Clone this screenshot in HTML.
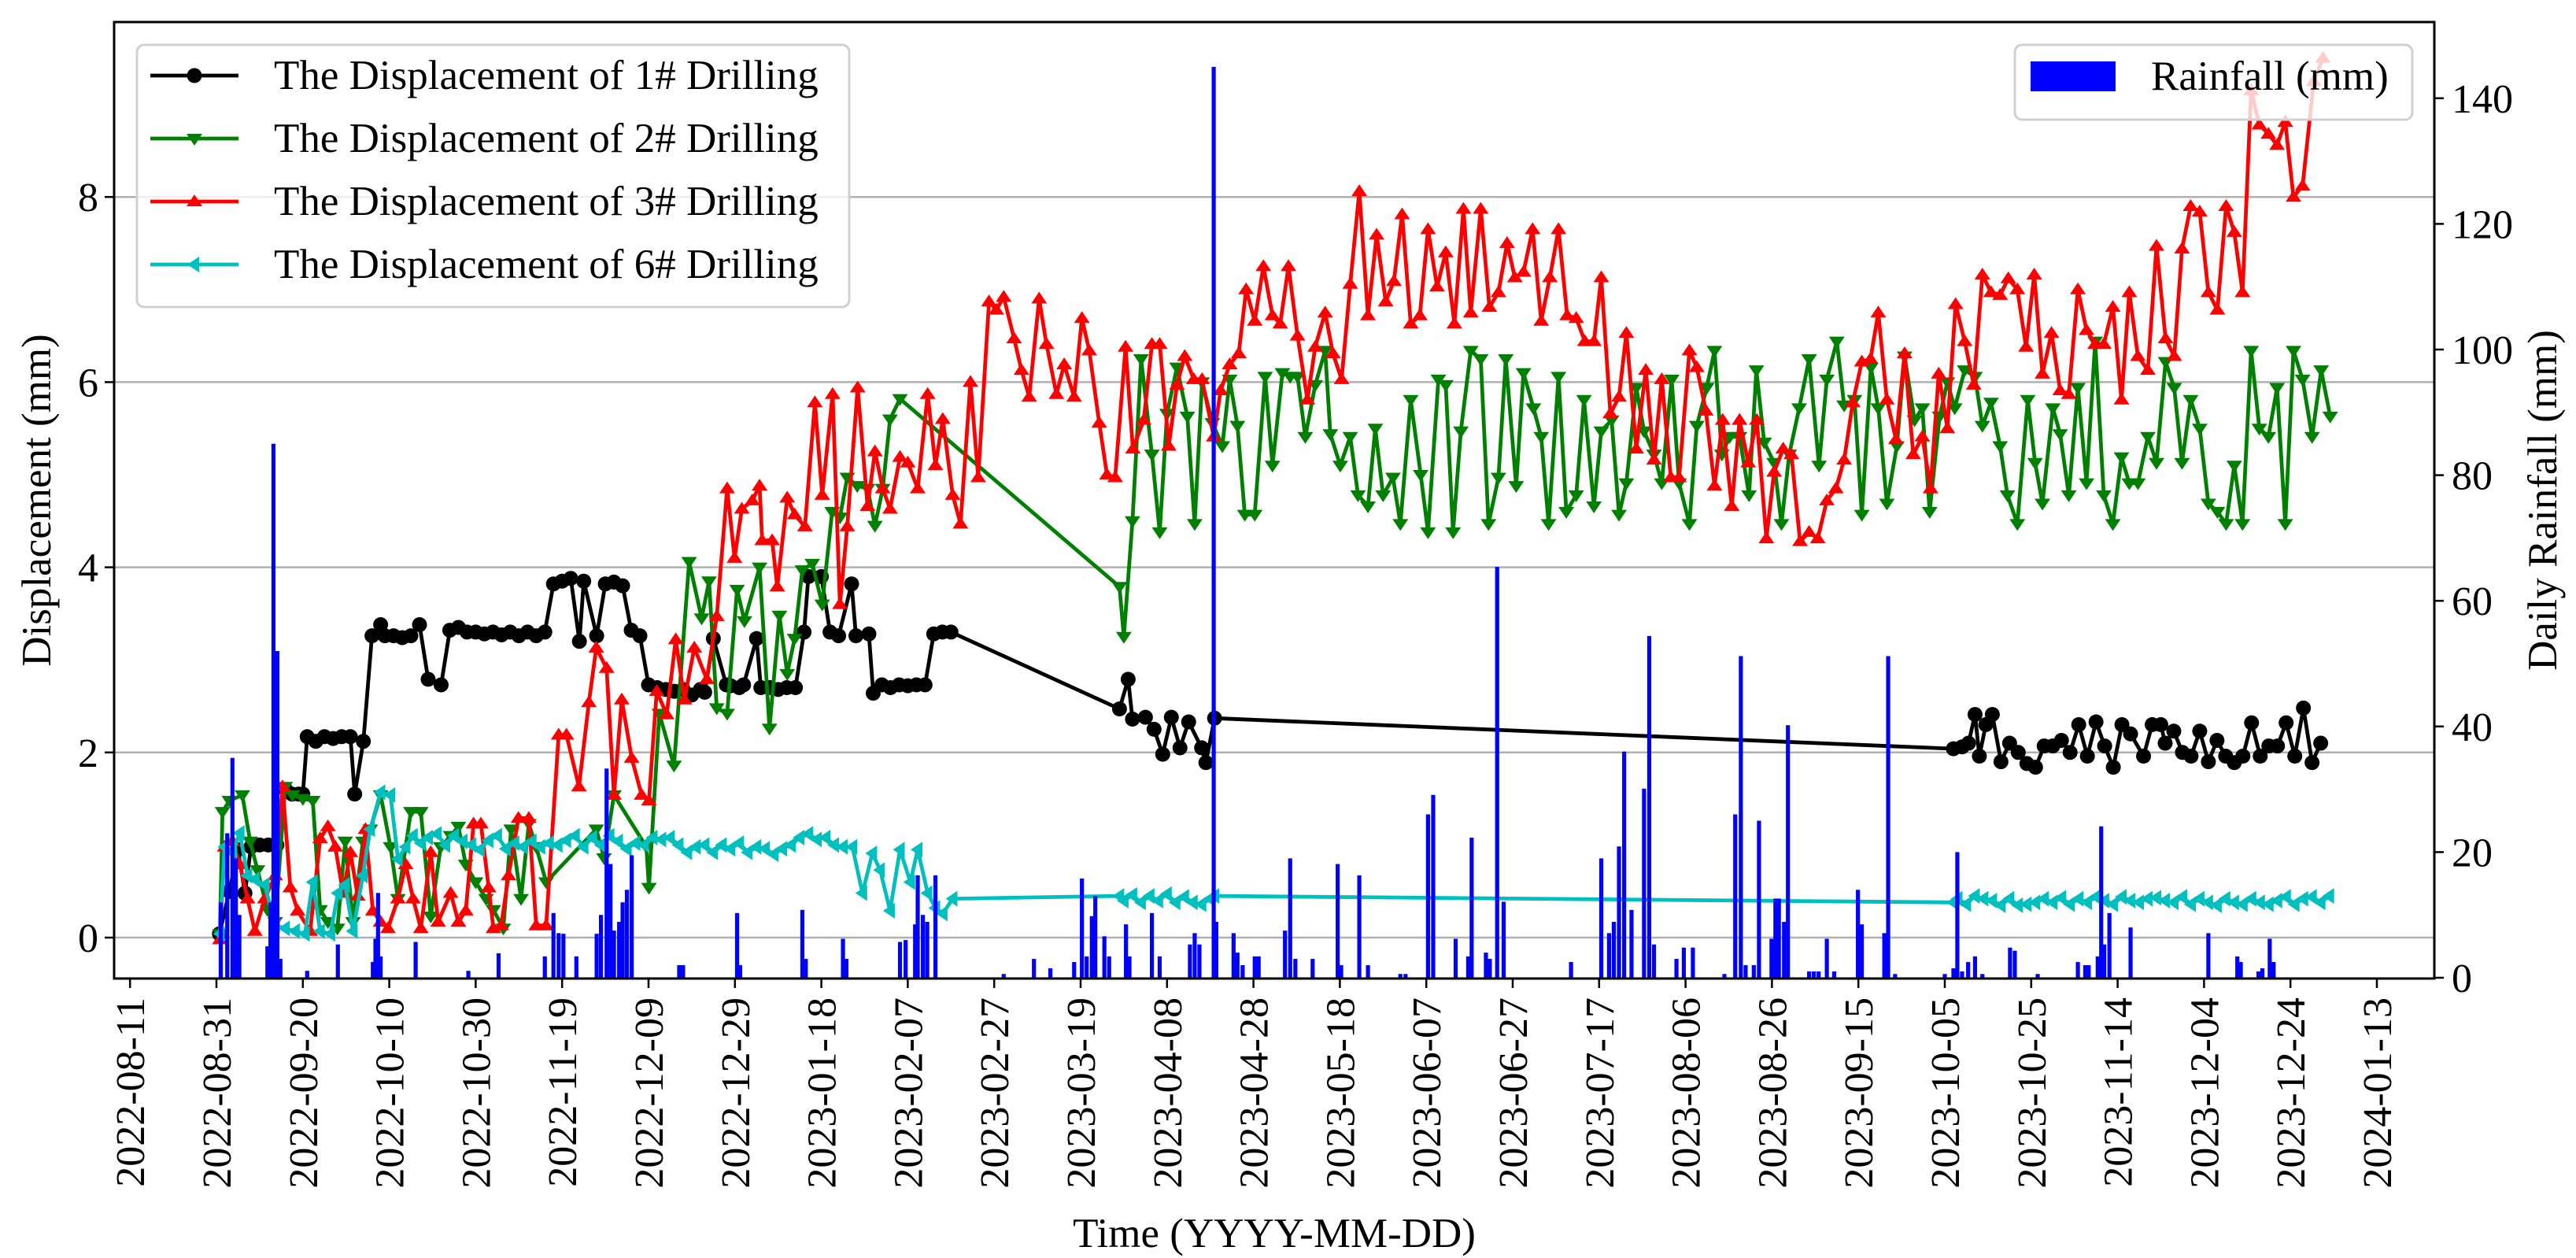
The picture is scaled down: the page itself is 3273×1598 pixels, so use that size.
<!DOCTYPE html>
<html><head><meta charset="utf-8"><style>
html,body{margin:0;padding:0;background:#fff}
svg{display:block}
text{font-family:"Liberation Serif","DejaVu Serif",serif;fill:#000}
</style></head><body>
<svg id="chart" xmlns="http://www.w3.org/2000/svg" width="3273" height="1598" viewBox="0 0 3273 1598">
<g id="grid"></g>
<g id="series"></g>
<g id="legend1"></g>
<g id="bars"></g>
<g id="legend2"></g>
<g id="axes"></g>
</svg>
<script>
const tickLabelsX = ["2022-08-11","2022-08-31","2022-09-20","2022-10-10","2022-10-30","2022-11-19","2022-12-09","2022-12-29","2023-01-18","2023-02-07","2023-02-27","2023-03-19","2023-04-08","2023-04-28","2023-05-18","2023-06-07","2023-06-27","2023-07-17","2023-08-06","2023-08-26","2023-09-15","2023-10-05","2023-10-25","2023-11-14","2023-12-04","2023-12-24","2024-01-13"];
const tickDaysX = [-20,0,20,40,60,80,100,120,140,160,180,200,220,240,260,280,300,320,340,360,380,400,420,440,460,480,500];
const leftTicks = [0,2,4,6,8];
const rightTicks = [0,20,40,60,80,100,120,140];

const s1Days = [0.7,3,5,6.6,8,10,12,14,16,17.5,19,20,21,23,25,27,29,31,32,34,36,38,39,41,43,45,47,49,52,54,56,58,60,62,64,66,68,70,72,74,76,78,80,82,84,85,88,90,92,94,96,98,100,102,104,106,108,110,112,113,115,118,119,121,122,125,126,128,130,132,134,136,137,140,142,144,147,148,151,152,154,156,158,160,162,164,166,168,170,209,211,212,215,217,219,221,223,225,228,229,231,402,404,405.5,407,408,409.5,411,413,415,417,419,421,423,425,427,429,431,433,435,437,439,441,443,446,448,450,451,453,455,457,459,461,463,465,467,469,471,473,475,477,479,481,483,485,487];
const s1Vals = [0.04,0.5,0.95,0.48,0.98,1.0,1.0,1.0,1.6,1.55,1.55,1.55,2.17,2.12,2.17,2.15,2.17,2.17,1.55,2.12,3.26,3.38,3.26,3.26,3.24,3.26,3.38,2.79,2.73,3.32,3.35,3.3,3.3,3.28,3.3,3.27,3.3,3.26,3.3,3.26,3.3,3.82,3.85,3.88,3.2,3.85,3.26,3.82,3.84,3.8,3.32,3.26,2.73,2.7,2.68,2.66,2.68,2.62,2.68,2.65,3.23,2.73,2.72,2.7,2.73,3.23,2.7,2.7,2.68,2.7,2.7,3.3,3.9,3.9,3.3,3.26,3.82,3.26,3.28,2.64,2.73,2.7,2.73,2.72,2.73,2.73,3.28,3.3,3.3,2.47,2.79,2.36,2.38,2.25,1.98,2.38,2.05,2.33,2.05,1.89,2.37,2.04,2.06,2.1,2.41,1.96,2.3,2.41,1.9,2.1,2.0,1.88,1.84,2.07,2.07,2.13,2.0,2.3,1.96,2.33,2.07,1.84,2.3,2.2,1.96,2.3,2.3,2.1,2.23,2.0,1.96,2.23,1.9,2.13,1.96,1.89,1.96,2.32,1.96,2.07,2.07,2.32,1.96,2.48,1.89,2.1];

const s2Days = [0.8,1.4,3,6,7.8,9.5,11.8,13.6,15.9,17.6,20,22.3,24,25.8,28,29.8,31.6,33.9,35.6,38,40.3,42,45,47.3,49.6,51.9,54.2,56,57.7,60,62.4,64.1,66.4,68.2,70.5,72.3,74,76.3,87.9,89.7,92,99.5,100.1,102.5,105.9,109.4,112.3,114,115.8,118.2,120.5,122.2,125.7,128,130.3,132.1,133.8,135.6,137.9,140.2,142.5,144.3,146,148.3,150.7,152.4,154.2,155.9,158.2,209,210,212,214,216.5,218.3,220,222.3,224.7,226.4,228.1,230.5,232.8,234.5,236.3,238,240.3,242.7,244.4,246.7,248.5,250.2,252,254.3,256.6,257.8,260.1,262.4,264.2,266.5,268.2,270,272.3,274,276.4,278.7,280.4,282.8,284.5,286.2,288,290.3,292.6,294.4,296.7,298.4,300.8,302.5,304.8,306.6,308.3,310.6,312.4,314.7,316.5,318.8,320.5,322.9,324.6,326.3,328.6,330.4,332.7,334.5,336.8,338.5,340.9,342.6,344.9,346.7,348.4,350.2,352.5,354.7,356.4,358.2,360.5,362.2,364,366.3,368.6,370.9,372.7,375,376.7,379.1,380.8,382.9,384.6,386.6,388.9,390.7,393,394.8,396.5,398.8,400.6,402.3,404.6,407,408.7,410.7,412.8,414.5,416.8,419.2,420.9,422.6,425,426.7,428.7,430.8,432.8,434.8,436.8,438.9,440.9,442.7,444.7,447,449,451.1,453.1,454.9,456.9,459,461,463.1,465.1,467,468.9,470.9,472.8,474.9,476.9,478.8,480.7,482.8,485,487.1,489.2];
const s2Vals = [0.04,1.36,1.48,1.54,1.04,0.73,0.3,0.17,1.63,1.54,1.5,1.48,0.3,0.17,0.1,1.04,0.17,1.04,1.17,1.54,0.98,0.42,1.36,1.36,0.23,0.98,1.1,1.2,0.79,0.6,0.42,0.3,0.1,1.17,0.42,1.23,0.98,0.6,1.17,0.86,1.54,0.98,0.54,2.42,1.86,4.06,3.45,3.85,2.48,2.42,3.76,3.42,4.0,2.26,3.48,2.85,3.23,3.97,4.04,3.6,4.6,4.54,4.97,4.88,4.85,4.45,4.85,5.6,5.82,3.79,3.25,4.5,6.25,5.22,4.38,5.66,6.16,5.63,4.47,6.0,5.56,5.31,6.03,5.53,4.57,4.57,6.06,5.1,6.1,6.06,6.06,5.41,5.97,6.34,5.44,5.1,5.41,4.78,4.66,5.5,4.78,4.97,4.47,5.81,5.0,4.38,6.03,5.97,4.38,5.47,6.34,6.25,4.47,4.97,6.25,4.88,6.1,5.72,5.41,4.47,6.06,4.6,4.78,5.81,4.66,5.47,5.59,4.57,4.91,5.94,5.47,5.22,4.91,6.03,4.91,4.47,5.53,5.94,6.34,5.22,5.41,5.41,4.78,6.13,5.35,5.13,4.47,5.22,5.72,6.25,5.1,6.03,6.44,5.75,5.81,4.57,6.16,5.72,4.69,5.31,6.28,5.59,5.72,4.6,5.63,6.0,5.72,6.13,6.06,5.53,5.78,5.31,4.78,4.47,5.81,5.13,4.69,5.72,5.44,4.78,5.94,4.91,6.44,4.78,4.47,5.19,4.91,4.91,5.41,5.13,6.22,5.94,5.13,5.81,5.5,4.69,4.6,4.47,5.1,4.47,6.34,5.5,5.41,5.94,4.47,6.34,6.03,5.41,6.13,5.63];

const s3Days = [0.8,1.9,3.7,5.4,7.2,8.9,11.2,13.6,15.3,17.1,18.8,21.7,24,25.8,27.5,29.3,31,32.7,34.5,36.2,38,39.7,42,43.8,45.5,47.3,49.6,51.3,54.2,56,57.7,59.5,61.2,63,64.1,65.9,67.6,69.9,72.3,74,76.3,79.2,81,83.9,86.2,87.9,90.3,92,93.8,96.1,98.4,100.1,101.9,104.2,106.3,108.3,110.6,113.5,115.8,118.2,119.9,121.6,124,125.7,126.3,128.6,129.8,132.1,133.8,136.2,138.5,140.2,142.6,144.3,146,148.4,150.7,152.4,154.2,155.9,158.2,160,162.3,164.6,166.4,168.1,170.4,172.2,174.5,176.3,178.8,180.5,182.2,184.6,186.3,188.1,190.4,192.1,194.4,196.2,198.5,200.3,202,204.3,206.1,208,210.4,212.1,214.6,216.5,218.3,220.4,222.3,224.1,226.2,228.1,230.8,232.4,234.5,236.6,238.3,240.3,242.3,244.4,246.2,248.1,250.2,252.5,254.3,256.6,258.4,260.4,262.4,264.5,266.5,268.5,270.6,272.5,274.4,276.4,278.5,280.4,282.5,284.5,286.5,288.6,290.3,292.6,294.6,296.7,298.7,300.5,302.5,304.6,306.6,308.6,310.6,312.6,314.7,316.7,318.8,320.5,322.6,324.6,326.3,328.6,330.8,332.7,334.5,336.6,338.5,340.9,342.6,344.7,346.7,348.6,350.7,352.5,354.5,356.5,358.7,360.5,362.6,364.5,366.5,368.6,370.6,372.7,374.8,376.7,378.7,380.8,382.8,384.6,386.6,388.7,390.7,392.7,394.8,396.7,398.6,400.6,402.5,404.6,406.7,408.7,410.7,412.8,414.7,416.8,418.8,420.7,422.6,424.7,426.7,428.7,430.8,432.8,434.8,436.8,438.9,440.9,442.7,444.7,447,449,451.1,453.1,454.9,456.9,459,461,463.1,465.1,467,468.9,470.9,472.8,474.9,476.9,478.8,480.7,482.8,485.4,487.5];
const s3Vals = [-0.02,0.98,1.04,0.79,0.42,0.07,0.42,0.67,1.63,0.54,0.29,0.07,1.07,1.2,0.98,0.48,0.92,0.45,1.17,0.29,0.17,0.1,0.42,0.79,0.42,0.1,0.92,0.17,0.48,0.17,0.29,1.23,1.23,0.54,0.1,0.13,0.67,1.29,1.29,0.13,0.13,2.19,2.19,1.63,2.54,3.13,2.91,1.54,2.57,1.94,1.54,1.48,2.66,2.41,3.22,2.57,3.13,2.79,3.47,4.85,4.1,4.63,4.72,4.88,4.29,4.29,3.79,4.75,4.57,4.44,5.78,4.78,5.87,3.6,4.44,5.94,4.66,5.25,4.85,4.63,5.19,5.13,4.85,5.87,5.1,5.6,4.78,4.47,6.0,4.97,6.87,6.78,6.92,6.47,6.13,5.84,6.9,6.41,5.87,6.19,5.84,6.69,6.34,5.56,5.0,4.97,6.38,5.28,5.59,6.41,6.41,5.31,5.97,6.28,6.03,6.03,5.41,5.91,6.19,6.31,7.0,6.66,7.25,6.72,6.63,7.25,6.5,5.81,6.38,6.75,6.31,6.03,7.06,8.06,6.72,7.59,6.87,7.09,7.81,6.63,6.72,7.65,7.03,7.4,6.63,7.87,6.75,7.87,6.81,6.97,7.5,7.13,7.19,7.65,6.66,7.13,7.65,6.72,6.69,6.44,6.44,7.13,5.66,5.84,6.53,5.28,6.13,5.16,6.03,4.97,4.97,6.34,6.16,5.69,4.88,5.59,4.66,5.59,5.13,5.59,4.31,5.03,5.28,5.22,4.28,4.38,4.31,4.72,4.85,5.16,5.78,6.22,6.25,6.75,5.81,5.38,6.31,5.22,5.41,4.85,6.09,5.5,6.84,6.44,5.97,7.16,6.97,6.94,7.12,7.0,6.38,7.16,6.09,6.53,5.91,5.87,7.0,6.56,6.41,6.41,6.81,5.81,6.97,6.28,6.13,7.47,6.47,6.28,7.44,7.9,7.84,6.97,6.78,7.9,7.62,6.97,9.15,8.78,8.68,8.56,8.81,8.0,8.12,9.25,9.5];

const s6Days = [0.8,1.9,3.7,5.4,7.2,8.9,11.2,13.6,15.9,18.2,20.5,22.3,24,26.4,28.1,29.8,31.6,33.9,35.6,38,40.3,42,43.8,45.5,47.3,49,51,53,55,57,59,61,63,65,67,69,71,73,75,77,79,81,83,85,87,89,91,93,95,97,99,101,103,105,107,109,111,113,115,117,119,121,123,125,127,129,131,133,135,137,139,141,143,145,147.2,149.5,151.8,153.6,155.9,158.2,160.6,162.3,164.6,166.4,168.1,170.4,209,210,212,214,216,218,220,222,224,226,228,230,231,402,403,405,407,409,411,413,415,417,419,421,423,425,427,429,431,433,435,437,439,441,443,445,447,449,451,453,455,457,459,461,463,465,467,469,471,473,475,477,479,481,483,485,487,489];
const s6Vals = [0.04,0.98,0.92,1.13,0.67,0.63,0.57,0.13,0.1,0.07,0.04,0.6,0.07,0.04,0.48,0.57,0.07,0.67,1.17,1.57,1.54,0.85,0.98,1.1,1.02,1.08,1.12,1.0,1.1,1.04,1.0,0.95,1.05,1.1,0.96,1.02,0.98,1.04,0.98,1.02,1.0,1.05,1.1,0.98,1.08,1.0,1.1,1.04,0.96,1.02,1.0,1.08,1.06,1.08,1.0,0.92,0.98,1.0,0.92,1.0,0.96,1.02,0.92,0.98,0.96,0.9,0.96,1.0,1.08,1.12,1.06,1.08,1.0,0.98,0.98,0.48,0.91,0.73,0.29,0.95,0.6,0.95,0.48,0.32,0.26,0.42,0.45,0.4,0.46,0.38,0.45,0.4,0.47,0.38,0.44,0.38,0.36,0.42,0.45,0.38,0.42,0.36,0.45,0.42,0.4,0.35,0.42,0.35,0.36,0.38,0.42,0.38,0.43,0.36,0.42,0.38,0.44,0.4,0.36,0.44,0.4,0.38,0.42,0.43,0.4,0.38,0.44,0.36,0.42,0.38,0.35,0.42,0.38,0.36,0.42,0.38,0.36,0.4,0.44,0.36,0.42,0.44,0.38,0.45];

const rainDays = [1,2.5,3.7,4.5,5.3,11.8,12.5,13.2,14.1,14.8,21,28.1,36.2,36.8,37.4,38,46.1,58.3,65.3,76,78,79.2,80.3,83.3,88,89,90.3,91.2,92,93.2,94,95,96.1,107.1,108,120.5,121.2,135.6,136.4,145,145.8,158.2,159.5,161.7,162.3,163.5,164.5,166.4,182.2,189.2,193,198.5,200.3,201.4,202.6,203.4,205.5,206.6,210.5,211.3,216.5,218.3,225.3,226.4,227.5,230.8,231.4,235.4,236.3,237.5,240.3,241.2,247.3,248.5,249.7,253.7,259.5,260.3,264.5,266.5,274,275.2,280.4,281.6,286.8,289.7,290.5,293.8,294.7,296.4,297.9,313.5,320.5,322.3,323.4,324.6,325.8,327.5,330.4,331.6,332.7,337.9,339.6,341.7,349,351.5,352.8,353.9,355.8,357,359.9,360.8,361.6,362.8,363.7,368.6,369.7,370.8,372.7,374.4,379.9,380.8,386,386.9,388.5,400,402,402.9,404,405.4,407,408.7,415.1,416.2,421.5,430.8,432.5,433.3,435.4,436.2,436.9,438.1,443,461,467.7,468.5,472.6,473.5,475.2,476.1];
const rainVals = [12,23,35,19,10,5,12,85,52,3,1.1,5.3,2.5,6.2,13.5,3.4,5.7,1.1,3.9,3.4,10.3,7.1,7,3.4,7,10,33.3,18.1,7.5,8.9,12,14,19.5,2,2,10.3,2,10.8,3,6.2,3,5.7,6,8.5,16.3,10,8.9,16.3,0.6,3,1.5,2.5,15.8,3.4,9.8,13,6.6,3.4,8.5,3.4,10.3,3.4,5.3,7.1,5.3,145,8.9,7.1,4,2,3.4,3.4,7.5,19,3,3,18.1,2,16.3,2,0.6,0.6,26,29.1,6.2,3.4,22.3,4,3,65.4,12.1,2.5,19,7.1,8.9,20.9,36,10.8,30.1,54.4,5.3,3,4.8,4.8,0.6,26,51.2,2,2,25,6.2,12.6,12.6,8.9,40.2,1,1,1,6.2,1,14,8.5,7.1,51.2,0.6,0.6,1.5,20,1,2.5,3.4,0.6,4.8,4.3,0.6,2.5,2,2,3.4,24.1,5.3,10.3,8,7.1,3.4,2.5,1,1.5,6.2,2.5];

const NS = "http://www.w3.org/2000/svg";
const L = 145, R = 3093, T = 28, B = 1243;
function xS(d){ return 275 + 5.49 * d; }
function yL(v){ return 1191 - 117.6 * v; }
function yR(r){ return 1242 - 7.98 * r; }
function mk(tag, attrs, parent){ const e = document.createElementNS(NS, tag); for (const k in attrs) e.setAttribute(k, attrs[k]); parent.appendChild(e); return e; }

const grid = document.getElementById('grid');
leftTicks.forEach(v => {
  const ln = mk('line', {x1:L, x2:R, y1:yL(v), y2:yL(v), stroke:'#b0b0b0', 'stroke-width':2.5}, grid);
  
  
});

function markerPath(kind, x, y){
  const s = 10;
  if (kind === 'down') return `M${x-s},${y-s*0.6} L${x+s},${y-s*0.6} L${x},${y+s*0.9} Z`;
  if (kind === 'up') return `M${x-s},${y+s*0.6} L${x+s},${y+s*0.6} L${x},${y-s*0.9} Z`;
  return `M${x+s*0.6},${y-s} L${x+s*0.6},${y+s} L${x-s*0.9},${y} Z`;
}
const seriesG = document.getElementById('series');
const seriesDefs = [
  {days:s1Days, vals:s1Vals, color:'#000000', marker:'circle', name:'series-1-drilling'},
  {days:s2Days, vals:s2Vals, color:'#008000', marker:'down', name:'series-2-drilling'},
  {days:s3Days, vals:s3Vals, color:'#ff0000', marker:'up', name:'series-3-drilling'},
  {days:s6Days, vals:s6Vals, color:'#00bfbf', marker:'left', name:'series-6-drilling'}
];
seriesDefs.forEach(sd => {
  const g = mk('g', {}, seriesG);
  
  
  const pts = sd.days.map((d,i) => xS(d).toFixed(1) + ',' + yL(sd.vals[i]).toFixed(1)).join(' ');
  const pl = mk('polyline', {points:pts, fill:'none', stroke:sd.color, 'stroke-width':4.8, 'stroke-linejoin':'round'}, g);
  
  
  sd.days.forEach((d,i) => {
    const x = xS(d), y = yL(sd.vals[i]);
    let m;
    if (sd.marker === 'circle') m = mk('circle', {cx:x, cy:y, r:9.5, fill:sd.color}, g);
    else m = mk('path', {d:markerPath(sd.marker, x, y), fill:sd.color}, g);
    
    
  });
});

const lg1 = document.getElementById('legend1');
mk('rect', {x:174, y:57, width:905, height:333, rx:9, fill:'#ffffff', 'fill-opacity':0.8, stroke:'#d0d0d0', 'stroke-width':3}, lg1);
const legLabels = ["The Displacement of 1# Drilling","The Displacement of 2# Drilling","The Displacement of 3# Drilling","The Displacement of 6# Drilling"];
legLabels.forEach((t,i) => {
  const y = 96 + i * 80;
  const sd = seriesDefs[i];
  const eg = mk('g', {}, lg1);
  
  
  mk('line', {x1:191, x2:303, y1:y, y2:y, stroke:sd.color, 'stroke-width':4.8}, eg);
  if (sd.marker === 'circle') mk('circle', {cx:247, cy:y, r:9.5, fill:sd.color}, eg);
  else mk('path', {d:markerPath(sd.marker, 247, y), fill:sd.color}, eg);
  const tx = mk('text', {x:348, y:y+17, 'font-size':53}, eg);
  tx.textContent = t;
});

const barsG = document.getElementById('bars');
rainDays.forEach((d,i) => {
  const y = yR(rainVals[i]);
  const b = mk('rect', {x:xS(d)-2.6, y:y, width:5.2, height:Math.max(0, yR(0)-y), fill:'#0000ff'}, barsG);
  
  
});

const lg2 = document.getElementById('legend2');
mk('rect', {x:2560, y:57, width:505, height:95, rx:9, fill:'#ffffff', 'fill-opacity':0.8, stroke:'#d0d0d0', 'stroke-width':3}, lg2);
const patch = mk('rect', {x:2580, y:78, width:108, height:38, fill:'#0000ff'}, lg2);


const lt2 = mk('text', {x:2733, y:114, 'font-size':53}, lg2);
lt2.textContent = 'Rainfall (mm)';



const ax = document.getElementById('axes');
const frame = mk('rect', {x:L, y:T, width:R-L, height:B-T, fill:'none', stroke:'#000', 'stroke-width':3}, ax);


leftTicks.forEach(v => {
  const y = yL(v);
  mk('line', {x1:L-12, x2:L, y1:y, y2:y, stroke:'#000', 'stroke-width':2.5}, ax);
  const t = mk('text', {x:L-20, y:y+18, 'font-size':52, 'text-anchor':'end'}, ax);
  t.textContent = String(v);
  
  
});
rightTicks.forEach(r => {
  const y = yR(r);
  mk('line', {x1:R, x2:R+12, y1:y, y2:y, stroke:'#000', 'stroke-width':2.5}, ax);
  const t = mk('text', {x:R+22, y:y+18, 'font-size':52}, ax);
  t.textContent = String(r);
  
  
});
tickDaysX.forEach((d,i) => {
  const x = xS(d);
  mk('line', {x1:x, x2:x, y1:B, y2:B+12, stroke:'#000', 'stroke-width':2.5}, ax);
  const t = mk('text', {x:0, y:0, 'font-size':52, 'text-anchor':'end', transform:`translate(${x+18},${B+24}) rotate(-90)`}, ax);
  t.textContent = tickLabelsX[i];
  
  
});
const xt = mk('text', {x:(L+R)/2, y:1584, 'font-size':53, 'text-anchor':'middle'}, ax);
xt.textContent = 'Time (YYYY-MM-DD)';


const ylt = mk('text', {x:0, y:0, 'font-size':53, 'text-anchor':'middle', transform:`translate(64,${(T+B)/2}) rotate(-90)`}, ax);
ylt.textContent = 'Displacement (mm)';


const yrt = mk('text', {x:0, y:0, 'font-size':53, 'text-anchor':'middle', transform:`translate(3248,${(T+B)/2}) rotate(-90)`}, ax);
yrt.textContent = 'Daily Rainfall (mm)';


</script>
</body></html>
